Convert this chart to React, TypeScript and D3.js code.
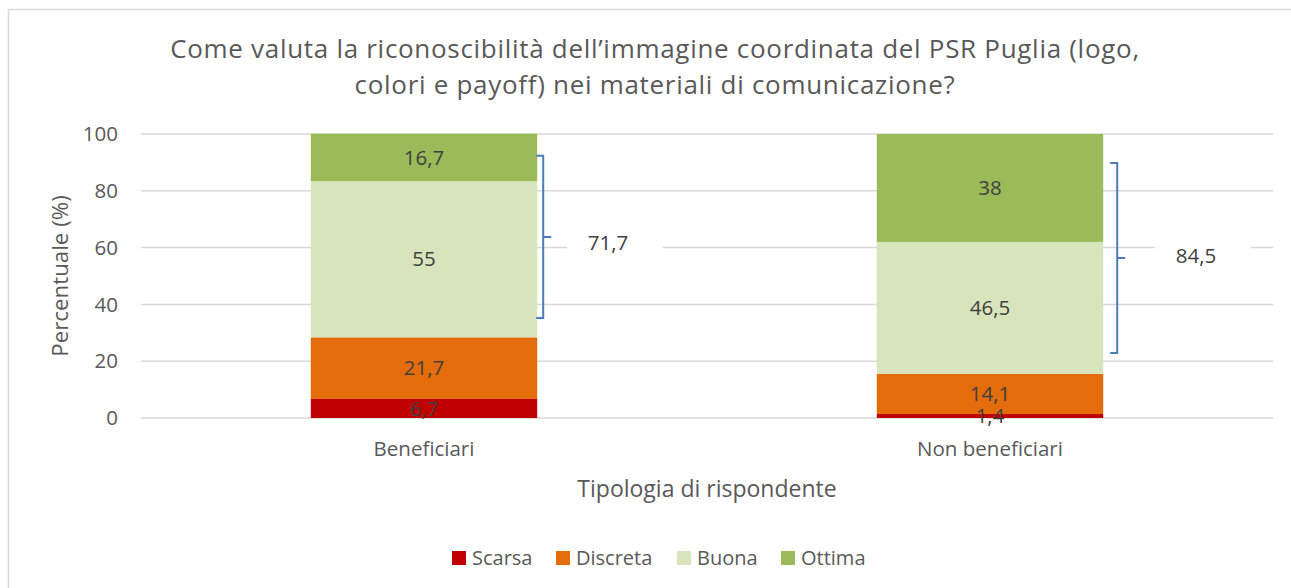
import React from "react";
import * as d3 from "d3";

const categories = ["Beneficiari", "Non beneficiari"];
const seriesNames = ["Scarsa", "Discreta", "Buona", "Ottima"];
const scarsa = [6.7, 1.4];
const discreta = [21.7, 14.1];
const buona = [55, 46.5];
const ottima = [16.7, 38];
const totals = ["71,7", "84,5"];
const bracketTop = [92.3, 89.8];
const bracketBottom = [35.2, 22.9];
const yTicks = [0, 20, 40, 60, 80, 100];
const colors = ["#C00000", "#E46C0A", "#D8E4BC", "#9BBB59"];

const W = 1291;
const H = 588;
const FONT = "'Open Sans', 'Noto Sans', sans-serif";

export default function App() {
  const x = d3.scaleBand().domain(categories).range([141, 1273]).paddingInner(0.6).paddingOuter(0.3);
  const y = d3.scaleLinear().domain([0, 100]).range([418, 134]);
  const seriesVals = [scarsa, discreta, buona, ottima];
  const table = categories.map((c, i) => {
    const o: any = { cat: c };
    seriesNames.forEach((s, j) => (o[s] = seriesVals[j][i]));
    return o;
  });
  const stacked = d3.stack().keys(seriesNames)(table as any);
  const fmt = (v: number) => String(v).replace(".", ",");
  const legendX = [452, 556, 677, 781];
  const bracketOffsets = [6, 14];
  const labelCx = [608, 1196];
  const labelDy = [6, -2];
  const boxes = [
    [567, 222, 96, 42],
    [1155, 214, 96, 89],
  ];

  return (
    <svg width={W} height={H} style={{ position: "absolute", left: 0, top: 0 }}>
      <rect x={0} y={0} width={W} height={H} fill="#fff" />
      <rect x={8.5} y={9.5} width={W + 20} height={H + 20} fill="#fff" stroke="#d9d9d9" strokeWidth={1.5} />
      <text x={655} y={58} textAnchor="middle" fontFamily={FONT} fontSize={26} letterSpacing={0.7} fill="#595959">
        Come valuta la riconoscibilità dell’immagine coordinata del PSR Puglia (logo,
      </text>
      <text x={655} y={94} textAnchor="middle" fontFamily={FONT} fontSize={26} letterSpacing={0.7} fill="#595959">
        colori e payoff) nei materiali di comunicazione?
      </text>
      {yTicks.map((t) => (
        <g key={t}>
          <line x1={141} x2={1273} y1={y(t)} y2={y(t)} stroke="#d9d9d9" strokeWidth={1.5} />
          <text x={118} y={y(t)} dy="0.35em" textAnchor="end" fontFamily={FONT} fontSize={20.5} fill="#595959">
            {t}
          </text>
        </g>
      ))}
      {boxes.map((b, i) => (
        <rect key={i} x={b[0]} y={b[1]} width={b[2]} height={b[3]} fill="#fff" />
      ))}
      {stacked.map((s, j) => (
        <g key={j}>
          {s.map((d: any, i: number) => (
            <rect
              key={i}
              x={x(categories[i])}
              width={x.bandwidth()}
              y={y(d[1])}
              height={y(d[0]) - y(d[1])}
              fill={colors[j]}
            />
          ))}
        </g>
      ))}
      {stacked.map((s, j) => (
        <g key={"l" + j}>
          {s.map((d: any, i: number) => (
            <text
              key={i}
              x={(x(categories[i]) as number) + x.bandwidth() / 2}
              y={y((d[0] + d[1]) / 2)}
              dy="0.35em"
              textAnchor="middle"
              fontFamily={FONT}
              fontSize={20.5}
              fill="#404040"
            >
              {fmt(seriesVals[j][i])}
            </text>
          ))}
        </g>
      ))}
      {categories.map((c, i) => {
        const bx = (x(c) as number) + x.bandwidth() + bracketOffsets[i];
        const t = y(bracketTop[i]);
        const b = y(bracketBottom[i]);
        const m = (t + b) / 2;
        return (
          <g key={"b" + i}>
            <path
              d={`M${bx - 7},${t} L${bx},${t} L${bx},${b} L${bx - 7},${b} M${bx},${m} L${bx + 8},${m}`}
              fill="none"
              stroke="#4A7EBB"
              strokeWidth={2}
            />
            <text x={labelCx[i]} y={m + labelDy[i]} dy="0.35em" textAnchor="middle" fontFamily={FONT} fontSize={20.5} fill="#404040">
              {totals[i]}
            </text>
          </g>
        );
      })}
      {categories.map((c) => (
        <text
          key={c}
          x={(x(c) as number) + x.bandwidth() / 2}
          y={449}
          dy="0.35em"
          textAnchor="middle"
          fontFamily={FONT}
          fontSize={20.5}
          fill="#595959"
        >
          {c}
        </text>
      ))}
      <text x={707} y={489} dy="0.35em" textAnchor="middle" fontFamily={FONT} fontSize={23} fill="#595959">
        Tipologia di rispondente
      </text>
      <text
        transform={`translate(60,276) rotate(-90)`}
        dy="0.35em"
        textAnchor="middle"
        fontFamily={FONT}
        fontSize={22.3}
        fill="#595959"
      >
        Percentuale (%)
      </text>
      {seriesNames.map((s, j) => (
        <g key={"lg" + j}>
          <rect x={legendX[j]} y={551} width={14} height={14} fill={colors[j]} />
          <text x={legendX[j] + 20} y={558} dy="0.35em" fontFamily={FONT} fontSize={20} fill="#595959">
            {s}
          </text>
        </g>
      ))}
    </svg>
  );
}
